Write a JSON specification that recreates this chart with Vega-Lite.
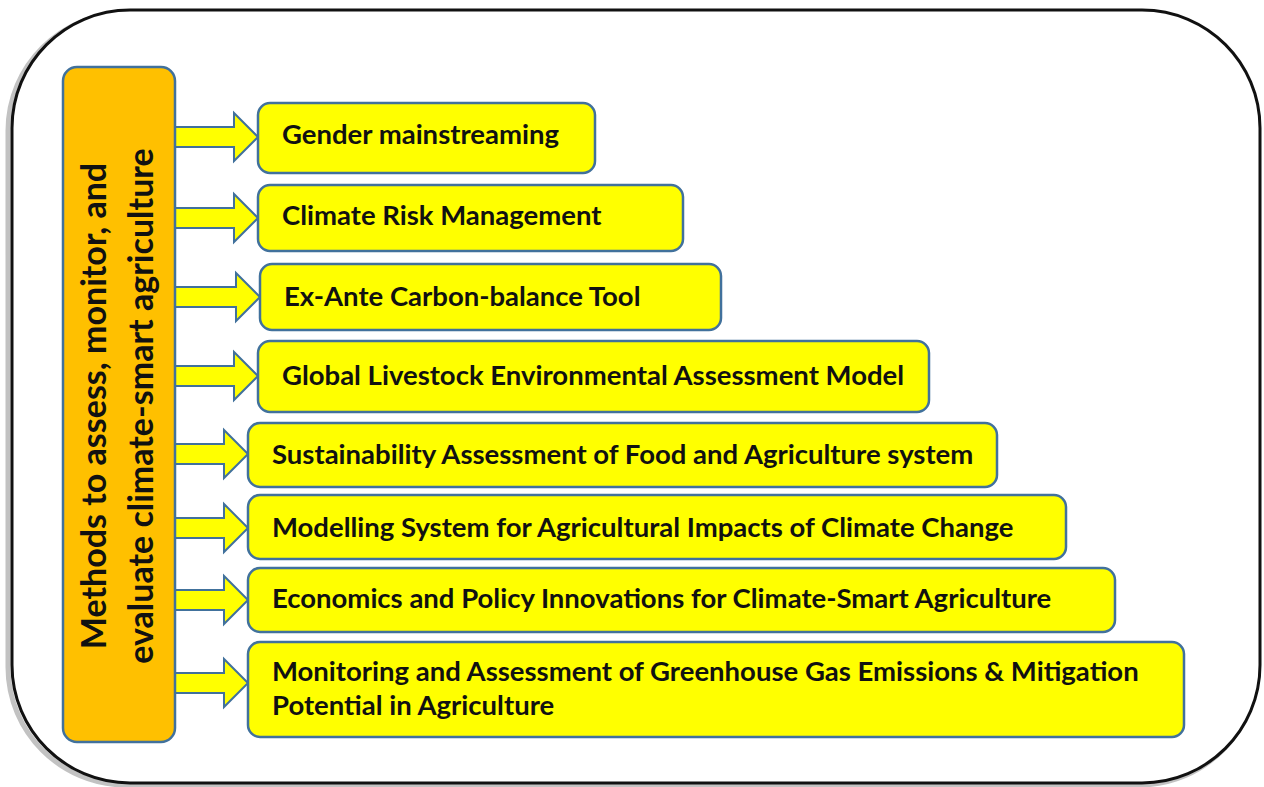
{
  "$schema": "https://vega.github.io/schema/vega-lite/v6.json",
  "width": 1264,
  "height": 787,
  "padding": 0,
  "autosize": {"type": "none"},
  "background": "white",
  "config": {"view": {"stroke": null}},
  "datasets": {
    "shadow": [{"x1": 8, "x2": 1257, "y1": 13, "y2": 785}],
    "frame": [{"x1": 12, "x2": 1260, "y1": 10, "y2": 783}],
    "main": [{"x1": 63, "x2": 175, "y1": 67, "y2": 742}],
    "titleLines": [
      {"line": "Methods to assess, monitor, and", "lx": 96, "ly": 406},
      {"line": "evaluate climate-smart agriculture", "lx": 143, "ly": 406}
    ],
    "boxes": [
      {"label": "Gender mainstreaming", "x1": 258, "x2": 595, "y1": 103, "y2": 173, "ty": 136, "ay": 137},
      {"label": "Climate Risk Management", "x1": 258, "x2": 683, "y1": 185, "y2": 251, "ty": 217, "ay": 218},
      {"label": "Ex-Ante Carbon-balance Tool", "x1": 260, "x2": 721, "y1": 264, "y2": 330, "ty": 298, "ay": 297},
      {"label": "Global Livestock Environmental Assessment Model", "x1": 258, "x2": 929, "y1": 341, "y2": 412, "ty": 377, "ay": 376},
      {"label": "Sustainability Assessment of Food and Agriculture system", "x1": 248, "x2": 997, "y1": 423, "y2": 487, "ty": 456, "ay": 454},
      {"label": "Modelling System for Agricultural Impacts of Climate Change", "x1": 248, "x2": 1066, "y1": 495, "y2": 559, "ty": 529, "ay": 528},
      {"label": "Economics and Policy Innovations for Climate-Smart Agriculture", "x1": 248, "x2": 1115, "y1": 568, "y2": 632, "ty": 600, "ay": 600},
      {"label": "Monitoring and Assessment of Greenhouse Gas Emissions & Mitigation\nPotential in Agriculture", "x1": 248, "x2": 1184, "y1": 642, "y2": 737, "ty": 673, "ay": 683}
    ]
  },
  "layer": [
    {
      "data": {"name": "shadow"},
      "mark": {"type": "rect", "cornerRadius": 118, "fill": "white", "stroke": "#9a9a9a", "strokeWidth": 5, "opacity": 0.6},
      "encoding": {
        "x": {"field": "x1", "type": "quantitative", "axis": null, "scale": {"domain": [0, 1264], "nice": false, "zero": false}},
        "x2": {"field": "x2"},
        "y": {"field": "y1", "type": "quantitative", "axis": null, "scale": {"domain": [0, 787], "nice": false, "zero": false, "reverse": true}},
        "y2": {"field": "y2"}
      }
    },
    {
      "data": {"name": "frame"},
      "mark": {"type": "rect", "cornerRadius": 118, "fill": "white", "stroke": "#111111", "strokeWidth": 3},
      "encoding": {
        "x": {"field": "x1", "type": "quantitative"},
        "x2": {"field": "x2"},
        "y": {"field": "y1", "type": "quantitative"},
        "y2": {"field": "y2"}
      }
    },
    {
      "data": {"name": "boxes"},
      "mark": {"type": "point", "shape": "M-2,-0.235 L-0.565,-0.235 L-0.565,-0.565 L0,0 L-0.565,0.565 L-0.565,0.235 L-2,0.235 Z", "size": 7225, "filled": true, "fill": "#FFFF00", "stroke": "#41719C", "strokeWidth": 2, "opacity": 1},
      "encoding": {
        "x": {"field": "x1", "type": "quantitative"},
        "y": {"field": "ay", "type": "quantitative"}
      }
    },
    {
      "data": {"name": "main"},
      "mark": {"type": "rect", "cornerRadius": 14, "fill": "#FFC000", "stroke": "#41719C", "strokeWidth": 2.5},
      "encoding": {
        "x": {"field": "x1", "type": "quantitative"},
        "x2": {"field": "x2"},
        "y": {"field": "y1", "type": "quantitative"},
        "y2": {"field": "y2"}
      }
    },
    {
      "data": {"name": "titleLines"},
      "mark": {"type": "text", "angle": 270, "align": "center", "baseline": "middle", "font": "Lato", "fontWeight": "bold", "fontSize": 34, "fill": "#111111"},
      "encoding": {
        "x": {"field": "lx", "type": "quantitative"},
        "y": {"field": "ly", "type": "quantitative"},
        "text": {"field": "line"}
      }
    },
    {
      "data": {"name": "boxes"},
      "mark": {"type": "rect", "cornerRadius": 12, "fill": "#FFFF00", "stroke": "#41719C", "strokeWidth": 2.5},
      "encoding": {
        "x": {"field": "x1", "type": "quantitative"},
        "x2": {"field": "x2"},
        "y": {"field": "y1", "type": "quantitative"},
        "y2": {"field": "y2"}
      }
    },
    {
      "data": {"name": "boxes"},
      "mark": {"type": "text", "align": "left", "baseline": "middle", "dx": 24, "font": "Lato", "fontWeight": "bold", "fontSize": 27.5, "lineBreak": "\n", "lineHeight": 34, "fill": "#111111"},
      "encoding": {
        "x": {"field": "x1", "type": "quantitative"},
        "y": {"field": "ty", "type": "quantitative"},
        "text": {"field": "label"}
      }
    }
  ]
}
